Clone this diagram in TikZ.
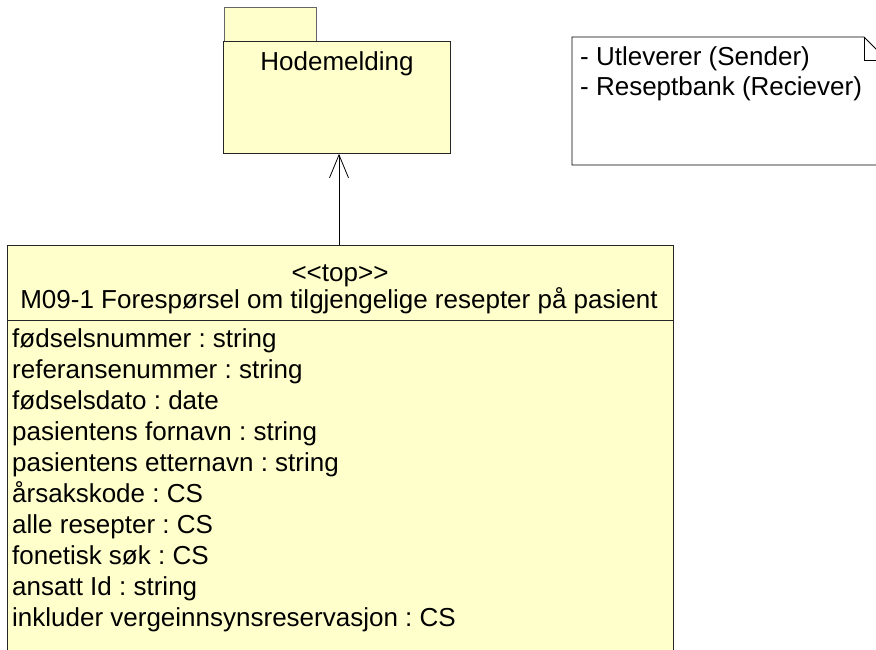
\documentclass[tikz,border=0pt]{standalone}
\usepackage{fontspec}
\setmainfont{Liberation Sans}
\usetikzlibrary{arrows.meta}
\definecolor{umlfill}{HTML}{FFFFCC}
\frenchspacing
\tikzset{
  umlbox/.style={draw=black!85, fill=umlfill, line width=0.8pt},
  umltext/.style={font=\fontsize{26}{30}\selectfont, inner sep=0pt},
  attr/.style={umltext, anchor=base west}
}
\begin{document}
\begin{tikzpicture}[x=1pt,y=-1pt]
  \useasboundingbox (0,0) rectangle (876,650);
  \clip (0,0) rectangle (876,650);
  % package Hodemelding
  \draw[umlbox, draw=black!60] (224,7) rectangle (316,41);
  \node[umlbox, anchor=north west, minimum width=227pt, minimum height=112pt] (pkg) at (223,41) {};
  \node[umltext, anchor=base] (pkgname) at (337,71) {Hodemelding};
  % note
  \draw[line width=0.8pt, fill=white] (572,37) -- (864,37) -- (887,60)
    -- (887,165) -- (572,165) -- cycle;
  \draw[line width=0.8pt] (864,37) -- (864,60) -- (887,60);
  \node[attr] (sender) at (580,66) {- Utleverer (Sender)};
  \node[attr] (receiver) at (580,96) {- Reseptbank (Reciever)};
  % class
  \node[umlbox, anchor=north west, minimum width=666pt, minimum height=420pt] (cls) at (7,245) {};
  \draw[line width=0.8pt, black!85] (7,320) -- (673,320);
  \node[umltext, anchor=base] (stereo) at (340,281) {<{}<top>{}>};
  \node[umltext, anchor=base] (clsname) at (339,308)
    {M09-1 Forespørsel om tilgjengelige resepter på pasient};
  \foreach \txt [count=\i from 0] in {fødselsnummer : string,
      referansenummer : string, fødselsdato : date,
      pasientens fornavn : string, pasientens etternavn : string,
      årsakskode : CS, alle resepter : CS, fonetisk søk : CS,
      ansatt Id : string, inkluder vergeinnsynsreservasjon : CS}
    \node[attr] (attr\i) at (12,347+31*\i) {\txt};
  % generalisation
  \draw[line width=0.8pt, -{Straight Barb[length=23pt, width=19pt, line width=0.8pt]}]
    (cls.north -| pkgname) ++(2,0) coordinate (clstop) (clstop) -- (clstop |- pkg.south);
\end{tikzpicture}
\end{document}
